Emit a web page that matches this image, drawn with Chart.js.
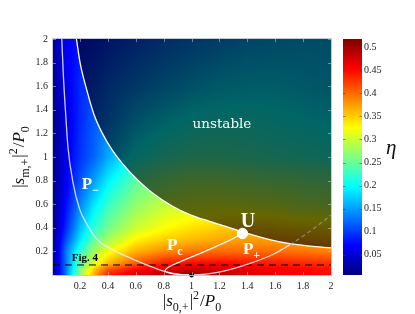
<!DOCTYPE html>
<html><head><meta charset="utf-8">
<script src="https://cdn.jsdelivr.net/npm/chart.js@4.4.0/dist/chart.umd.min.js"></script>
<style>html,body{margin:0;padding:0;background:#fff;overflow:hidden}</style>
</head><body>
<canvas id="c" width="415" height="314"></canvas>
<script>
// ---- tick labels ----
const xTicks = [0.2,0.4,0.6,0.8,1,1.2,1.4,1.6,1.8,2];
const yTicks = [0.2,0.4,0.6,0.8,1,1.2,1.4,1.6,1.8,2];
const cbTicks = [0.05,0.1,0.15,0.2,0.25,0.3,0.35,0.4,0.45,0.5];
const etaMin = 0.006, etaMax = 0.518;

// ---- eta field (rows = gridY, cols = gridX) ----
const gridX = [0,0.1,0.2,0.3,0.4,0.6,0.8,1.0,1.2,1.4,1.6,1.8,2.0];
const gridY = [0,0.05,0.1,0.2,0.3,0.4,0.6,0.8,1.0,1.3,1.6,2.0];
const etaY000 = [0.01,0.13,0.27,0.37,0.44,0.47,0.49,0.51,0.49,0.47,0.46,0.455,0.45];
const etaY005 = [0.01,0.13,0.26,0.35,0.41,0.45,0.47,0.48,0.475,0.465,0.455,0.45,0.445];
const etaY010 = [0.01,0.13,0.24,0.31,0.36,0.41,0.44,0.45,0.45,0.445,0.44,0.435,0.43];
const etaY020 = [0.01,0.13,0.22,0.28,0.32,0.365,0.385,0.395,0.40,0.40,0.40,0.395,0.39];
const etaY030 = [0.01,0.11,0.185,0.245,0.28,0.33,0.35,0.36,0.37,0.375,0.375,0.37,0.365];
const etaY040 = [0.01,0.09,0.165,0.22,0.255,0.30,0.325,0.34,0.35,0.355,0.35,0.345,0.34];
const etaY060 = [0.01,0.075,0.135,0.185,0.225,0.27,0.295,0.305,0.31,0.305,0.30,0.29,0.285];
const etaY080 = [0.01,0.065,0.11,0.15,0.19,0.245,0.265,0.275,0.275,0.27,0.265,0.26,0.255];
const etaY100 = [0.01,0.06,0.095,0.12,0.155,0.205,0.225,0.235,0.235,0.23,0.225,0.22,0.215];
const etaY130 = [0.01,0.055,0.09,0.115,0.135,0.17,0.19,0.205,0.21,0.21,0.205,0.20,0.195];
const etaY160 = [0.015,0.06,0.09,0.105,0.12,0.14,0.155,0.17,0.18,0.185,0.185,0.18,0.175];
const etaY200 = [0.02,0.065,0.08,0.085,0.095,0.11,0.125,0.135,0.145,0.155,0.16,0.165,0.165];
const etaRows = [etaY000,etaY005,etaY010,etaY020,etaY030,etaY040,etaY060,etaY080,etaY100,etaY130,etaY160,etaY200];

// ---- curves ----
const boundaryX = [0.174,0.2,0.25,0.3,0.36,0.43,0.5,0.6,0.72,0.86,1.0,1.12,1.25,1.365,1.56,1.706,1.85,2.0];
const boundaryY = [2.0,1.8,1.56,1.36,1.2,1.06,0.95,0.82,0.695,0.585,0.505,0.458,0.41,0.365,0.30,0.265,0.245,0.23];
const pMinusX = [0.069,0.08,0.095,0.113,0.15,0.196,0.24,0.315,0.40,0.51,0.65,0.80,0.90,1.0,1.1,1.23,1.42,1.59,1.706];
const pMinusY = [2.0,1.7,1.4,1.087,0.78,0.56,0.45,0.31,0.235,0.17,0.099,0.033,0.008,0.0,0.007,0.033,0.099,0.178,0.257];
const pDashX = [1.706,1.8,1.9,2.0];
const pDashY = [0.257,0.33,0.415,0.507];
const pcX = [1.0,0.92,0.85,0.81,0.84,0.916,1.036,1.18,1.275,1.365];
const pcY = [0.0,0.004,0.014,0.035,0.07,0.112,0.17,0.244,0.295,0.352];
const uPoint = {x:1.365, y:0.352};
const originDot = {x:1.0, y:0.0};
const fig4Level = 0.085;

const pts = (xs, ys) => xs.map((x,i)=>({x, y:ys[i]}));

function jet(t){
  t = Math.max(0, Math.min(1, t));
  const c = v => Math.max(0, Math.min(1, v));
  return [c(1.5-Math.abs(4*t-3))*255, c(1.5-Math.abs(4*t-2))*255, c(1.5-Math.abs(4*t-1))*255];
}
function findIdx(arr, v){
  for (let i=0;i<arr.length-2;i++){ if (v < arr[i+1]) return i; }
  return arr.length-2;
}
function etaAt(x, y){
  const i = findIdx(gridX, x), j = findIdx(gridY, y);
  const tx = Math.max(0, Math.min(1, (x-gridX[i])/(gridX[i+1]-gridX[i])));
  const ty = Math.max(0, Math.min(1, (y-gridY[j])/(gridY[j+1]-gridY[j])));
  const a = etaRows[j][i], b = etaRows[j][i+1], c = etaRows[j+1][i], d = etaRows[j+1][i+1];
  return (a*(1-tx)+b*tx)*(1-ty) + (c*(1-tx)+d*tx)*ty;
}

const heatmapPlugin = {
  id:'heatmap',
  beforeDatasetsDraw(chart){
    const ctx = chart.ctx, ca = chart.chartArea, xs = chart.scales.x, ys = chart.scales.y;
    const L = Math.round(ca.left), T = Math.round(ca.top);
    const W = Math.round(ca.right)-L, H = Math.round(ca.bottom)-T;
    const off = document.createElement('canvas'); off.width = W; off.height = H;
    const octx = off.getContext('2d'); const img = octx.createImageData(W,H);
    for (let py=0; py<H; py++){
      const yv = ys.getValueForPixel(T+py+0.5);
      for (let px=0; px<W; px++){
        const xv = xs.getValueForPixel(L+px+0.5);
        const col = jet((etaAt(xv,yv)-etaMin)/(etaMax-etaMin));
        const k = (py*W+px)*4;
        img.data[k]=col[0]; img.data[k+1]=col[1]; img.data[k+2]=col[2]; img.data[k+3]=255;
      }
    }
    octx.putImageData(img,0,0);
    ctx.drawImage(off, L, T);
  }
};

// math-ish text: segments [text, kind, extraSpace]
function drawMath(ctx, segs, x, y, size, align, color, fam){
  fam = fam || '"Liberation Serif", serif';
  const fontOf = k => {
    if (k==='i') return `italic ${size}px ${fam}`;
    if (k==='b') return `bold ${size}px ${fam}`;
    if (k==='sub'||k==='sup') return `${Math.round(size*0.7)}px ${fam}`;
    if (k==='subb') return `bold ${Math.round(size*0.68)}px ${fam}`;
    return `${size}px ${fam}`;
  };
  const dy = k => (k==='sub'||k==='subb') ? size*0.28 : (k==='sup' ? -size*0.42 : 0);
  let widths = segs.map(s => { ctx.font = fontOf(s[1]); return ctx.measureText(s[0]).width + (s[2]||0); });
  const total = widths.reduce((a,b)=>a+b,0);
  let cx = align==='center' ? x-total/2 : (align==='right' ? x-total : x);
  ctx.fillStyle = color; ctx.textAlign='left'; ctx.textBaseline='alphabetic';
  segs.forEach((s,i)=>{ ctx.font = fontOf(s[1]); ctx.fillText(s[0], cx, y+dy(s[1])); cx += widths[i]; });
}

const labelsPlugin = {
  id:'labels',
  afterDatasetsDraw(chart){
    const ctx = chart.ctx, xs = chart.scales.x, ys = chart.scales.y;
    const X = v => xs.getPixelForValue(v), Y = v => ys.getPixelForValue(v);
    ctx.save();
    ctx.fillStyle='#fff'; ctx.font='13.5px "DejaVu Serif", serif'; ctx.textAlign='center'; ctx.textBaseline='alphabetic';
    ctx.fillText('unstable', X(1.218), Y(1.25));
    drawMath(ctx, [['P','b'],['\u2212','subb',0]], X(0.213), Y(0.731), 17, 'left', '#fff');
    drawMath(ctx, [['P','b'],['c','subb']], X(0.823), Y(0.21), 17, 'left', '#fff');
    drawMath(ctx, [['P','b'],['+','subb']], X(1.368), Y(0.178), 17, 'left', '#fff');
    drawMath(ctx, [['U','b']], X(1.404), Y(0.411), 20, 'center', '#fff');
    ctx.fillStyle='#000'; ctx.font='bold 11px "Liberation Serif", serif'; ctx.textAlign='left';
    ctx.fillText('Fig. 4', X(0.14), Y(0.122));
    // small inner tick marks and frame
    const ca = chart.chartArea;
    ctx.strokeStyle='rgba(200,200,210,0.55)'; ctx.lineWidth=1;
    xTicks.forEach(v=>{ const px=Math.round(X(v))+0.5; ctx.beginPath(); ctx.moveTo(px,ca.bottom); ctx.lineTo(px,ca.bottom-3); ctx.moveTo(px,ca.top); ctx.lineTo(px,ca.top+3); ctx.stroke(); });
    yTicks.forEach(v=>{ const py=Math.round(Y(v))+0.5; ctx.beginPath(); ctx.moveTo(ca.left,py); ctx.lineTo(ca.left+3,py); ctx.moveTo(ca.right,py); ctx.lineTo(ca.right-3,py); ctx.stroke(); });
    ctx.strokeStyle='rgba(190,195,210,0.9)'; ctx.lineWidth=1;
    ctx.strokeRect(Math.round(ca.left)-0.5, Math.round(ca.top)-0.5, Math.round(ca.right-ca.left)+1, Math.round(ca.bottom-ca.top)+1);
    ctx.restore();
  },
  afterDraw(chart){
    const ctx = chart.ctx, ca = chart.chartArea, cb = chart.scales.cb;
    ctx.save();
    // colour bar
    const bx = Math.round(cb.left)+12, bw = 19;
    for (let py=Math.round(cb.top); py<Math.round(cb.bottom); py++){
      const c = jet((cb.getValueForPixel(py+0.5)-etaMin)/(etaMax-etaMin));
      ctx.fillStyle=`rgb(${c[0]|0},${c[1]|0},${c[2]|0})`;
      ctx.fillRect(bx, py, bw, 1);
    }
    ctx.strokeStyle='rgba(60,60,60,0.55)'; ctx.lineWidth=1;
    cbTicks.forEach(v=>{ const py=Math.round(cb.getPixelForValue(v))+0.5; ctx.beginPath(); ctx.moveTo(bx,py); ctx.lineTo(bx+2.5,py); ctx.moveTo(bx+bw,py); ctx.lineTo(bx+bw-2.5,py); ctx.stroke(); });
    // colour bar label
    ctx.fillStyle='#111'; ctx.font='italic 21px "Liberation Serif", serif'; ctx.textAlign='left'; ctx.textBaseline='alphabetic';
    ctx.fillText('\u03B7', bx+bw+24, 154);
    // axis titles
    const xc = (ca.left+ca.right)/2;
    drawMath(ctx, [['|','n'],['s','i'],['0,+','sub',1],['|','n'],['2','sup',1],['/','n'],['P','i'],['0','sub']], xc, 306, 17, 'center', '#111');
    ctx.translate(24, (ca.top+ca.bottom)/2);
    ctx.rotate(-Math.PI/2);
    drawMath(ctx, [['|','n'],['s','i'],['m,+','sub',1],['|','n'],['2','sup',1],['/','n'],['P','i'],['0','sub']], 0, 0, 17, 'center', '#111');
    ctx.restore();
  }
};

const tickFont = {family:'"Liberation Serif", serif', size:10};
const fmt = v => String(+Number(v).toFixed(2));

new Chart(document.getElementById('c'), {
  type:'scatter',
  data:{ datasets:[
    { label:'U', data:[uPoint], pointRadius:5.2, pointBackgroundColor:'#fff', pointBorderColor:'#fff', showLine:false },
    { label:'dot', data:[originDot], pointRadius:2, pointBackgroundColor:'#000', pointBorderColor:'#000', showLine:false, clip:false },
    { label:'Pc', data:pts(pcX,pcY), showLine:true, borderColor:'rgba(255,255,255,0.95)', borderWidth:1.3, pointRadius:0, tension:0.4, fill:false },
    { label:'P-', data:pts(pMinusX,pMinusY), showLine:true, borderColor:'rgba(240,240,255,0.85)', borderWidth:1.3, pointRadius:0, cubicInterpolationMode:'monotone', fill:false },
    { label:'P-dash', data:pts(pDashX,pDashY), showLine:true, borderColor:'rgba(170,170,190,0.6)', borderWidth:1.3, borderDash:[4,3], pointRadius:0, cubicInterpolationMode:'monotone', fill:false },
    { label:'fig4', data:[{x:0.006,y:fig4Level},{x:2,y:fig4Level}], showLine:true, borderColor:'#000', borderWidth:1, borderDash:[7,5], pointRadius:0, fill:false },
    { label:'boundary', data:pts(boundaryX,boundaryY), showLine:true, borderColor:'#fff', borderWidth:1.3, pointRadius:0, cubicInterpolationMode:'monotone', fill:'end', backgroundColor:'rgba(0,0,0,0.6)' }
  ]},
  options:{
    responsive:false, animation:false, devicePixelRatio:1,
    layout:{ padding:{ top:24, left:0, right:0, bottom:0 } },
    plugins:{ legend:{display:false}, tooltip:{enabled:false} },
    scales:{
      x:{ type:'linear', position:'bottom', min:0.006, max:2,
          afterBuildTicks: s => { s.ticks = xTicks.map(v=>({value:v})); },
          afterFit: s => { s.height = 36; },
          grid:{display:false, drawTicks:false}, border:{display:false},
          ticks:{ callback: fmt, font:tickFont, color:'#222', padding:5, maxRotation:0, autoSkip:false } },
      y:{ type:'linear', position:'left', min:0, max:2,
          afterBuildTicks: s => { s.ticks = yTicks.map(v=>({value:v})); },
          afterFit: s => { s.width = 53; },
          grid:{display:false, drawTicks:false}, border:{display:false},
          ticks:{ callback: fmt, font:tickFont, color:'#222', padding:5, autoSkip:false } },
      cb:{ type:'linear', position:'right', min:etaMin, max:etaMax,
          afterBuildTicks: s => { s.ticks = cbTicks.map(v=>({value:v})); },
          afterFit: s => { s.width = 84; },
          grid:{display:false, drawTicks:false}, border:{display:false},
          ticks:{ callback: fmt, font:tickFont, color:'#222', padding:33, autoSkip:false } }
    }
  },
  plugins:[heatmapPlugin, labelsPlugin]
});
</script>
</body></html>
